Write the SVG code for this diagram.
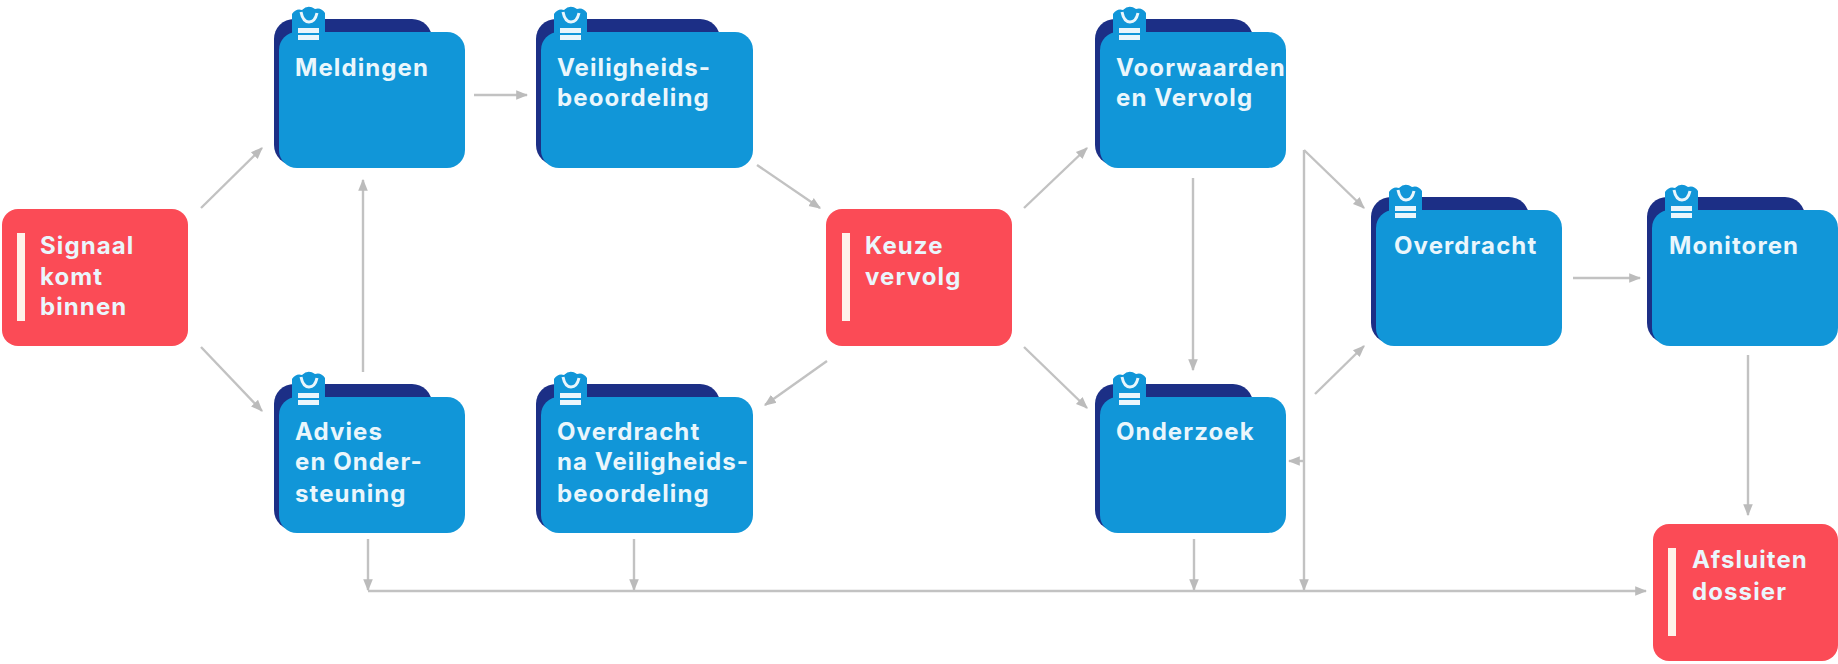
<svg xmlns="http://www.w3.org/2000/svg" width="1838" height="664" viewBox="0 0 1838 664">
<style>
.back{fill:#1c2f86}
.front{fill:#1196d8}
.red{fill:#fb4b56}
.bar{fill:#fff2ea}
.t{font-family:"Inter","Liberation Sans",sans-serif;font-weight:700;font-size:24px;letter-spacing:1.1px;fill:#eaf6fc}
.c{fill:none;stroke:#c2c2c2;stroke-width:2.4;marker-end:url(#a)}
.ic{fill:#eaf6fc}
</style>
<defs>
<marker id="a" viewBox="0 0 10 10" refX="9" refY="5" markerWidth="5" markerHeight="5" orient="auto"><path d="M0 1L10 5L0 9z" fill="#bbbbbb"/></marker>
<g id="icon">
<path class="front" d="M292 14Q296 8 302 10Q308 4 315 9Q321 7 325 13V34H292Z"/>
<path d="M301 12Q303 22 309 22Q315 22 317 13" fill="none" stroke="#eaf6fc" stroke-width="3"/>
<rect class="ic" x="298" y="28" width="21" height="5"/>
<rect class="ic" x="298" y="35" width="21" height="5"/>
</g>
<g id="folder">
<rect class="back" x="274" y="19" width="158" height="146" rx="20"/>
<rect class="front" x="279" y="32" width="186" height="136" rx="18"/>
<use href="#icon"/>
</g>
<g id="folder-wide">
<rect class="back" x="274" y="19" width="184" height="146" rx="20"/>
<rect class="front" x="279" y="32" width="212" height="136" rx="18"/>
<use href="#icon"/>
</g>
</defs>
<g id="connectors">
<path class="c" d="M201 208L262 148"/>
<path class="c" d="M201 347L262 411"/>
<path class="c" d="M363 372V180"/>
<path class="c" d="M474 95H527"/>
<path class="c" d="M757 165L820 208"/>
<path class="c" d="M827 361L765 405"/>
<path class="c" d="M1024 208L1087 148"/>
<path class="c" d="M1024 347L1087 408"/>
<path class="c" d="M1193 178V370"/>
<path class="c" d="M1304 150V590"/>
<path class="c" d="M1304 150L1364 208"/>
<path class="c" d="M1315 394L1364 346"/>
<path class="c" d="M1304 461H1289"/>
<path class="c" d="M1573 278H1640"/>
<path class="c" d="M1748 355V515"/>
<path class="c" d="M368 539V590"/>
<path class="c" d="M634 539V590"/>
<path class="c" d="M1194 539V590"/>
<path class="c" d="M368 591H1646"/>
</g>
<g id="signaal"><rect class="red" x="2" y="209" width="186" height="137" rx="16"/><rect class="bar" x="17" y="233" width="8" height="88"/><text class="t" x="40" y="254">Signaal</text><text class="t" x="40" y="285">komt</text><text class="t" x="40" y="315">binnen</text></g>
<g id="meldingen"><use href="#folder"/><text class="t" x="295" y="76">Meldingen</text></g>
<g id="veiligheidsbeoordeling"><use href="#folder-wide" x="262"/><text class="t" x="557" y="76">Veiligheids-</text><text class="t" x="557" y="106">beoordeling</text></g>
<g id="keuze"><rect class="red" x="826" y="209" width="186" height="137" rx="16"/><rect class="bar" x="842" y="233" width="8" height="88"/><text class="t" x="865" y="254">Keuze</text><text class="t" x="865" y="285">vervolg</text></g>
<g id="voorwaarden"><use href="#folder" x="821"/><text class="t" x="1116" y="76">Voorwaarden</text><text class="t" x="1116" y="106">en Vervolg</text></g>
<g id="overdracht"><use href="#folder" x="1097" y="178"/><text class="t" x="1394" y="254">Overdracht</text></g>
<g id="monitoren"><use href="#folder" x="1373" y="178"/><text class="t" x="1669" y="254">Monitoren</text></g>
<g id="advies"><use href="#folder" y="365"/><text class="t" x="295" y="440">Advies</text><text class="t" x="295" y="470">en Onder-</text><text class="t" x="295" y="502">steuning</text></g>
<g id="overdracht-nv"><use href="#folder-wide" x="262" y="365"/><text class="t" x="557" y="440">Overdracht</text><text class="t" x="557" y="470">na Veiligheids-</text><text class="t" x="557" y="502">beoordeling</text></g>
<g id="onderzoek"><use href="#folder" x="821" y="365"/><text class="t" x="1116" y="440">Onderzoek</text></g>
<g id="afsluiten"><rect class="red" x="1653" y="524" width="185" height="137" rx="16"/><rect class="bar" x="1668" y="548" width="8" height="88"/><text class="t" x="1692" y="568">Afsluiten</text><text class="t" x="1692" y="600">dossier</text></g>
</svg>
